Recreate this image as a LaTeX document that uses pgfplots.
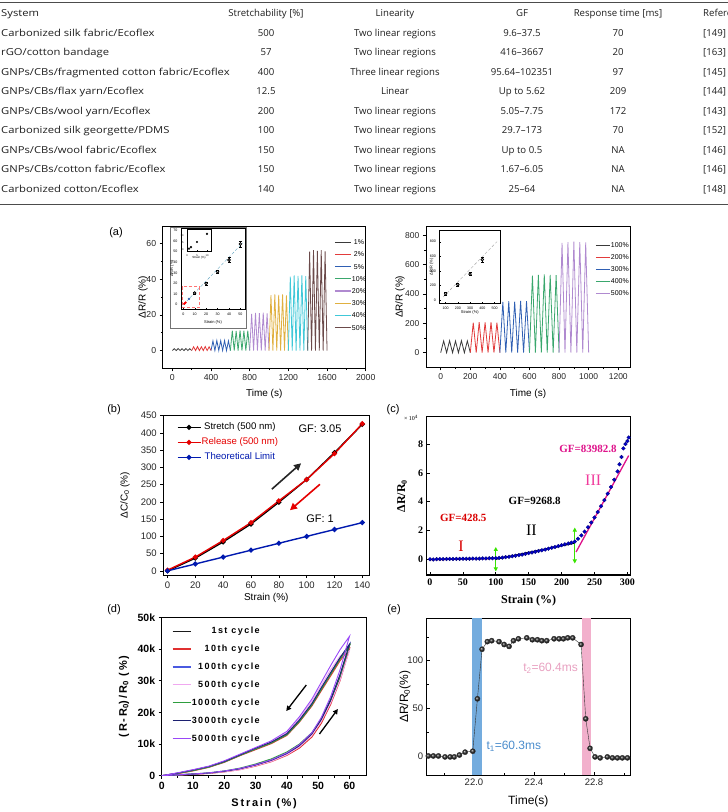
\documentclass[border=0pt]{standalone}
\usepackage{pgfplots}
\pgfplotsset{compat=1.18}
\usepackage{fontspec}
\setmainfont{Liberation Sans}
\newfontfamily\tabfont{Open Sans}
\newfontfamily\tabwide[FakeStretch=1.17]{Open Sans}
\newfontfamily\serifb{Liberation Serif}
\newfontfamily\spaced[LetterSpace=16]{Liberation Sans}
\usetikzlibrary{arrows.meta,plotmarks}

\definecolor{tabink}{HTML}{1E1E1E}
% strain-step colours, panel (a)
\definecolor{cA}{HTML}{3A3A3A}
\definecolor{cB}{HTML}{E23B3B}
\definecolor{cC}{HTML}{2F5FB3}
\definecolor{cD}{HTML}{3AA76D}
\definecolor{cE}{HTML}{B08AD0}
\definecolor{cF}{HTML}{E0B040}
\definecolor{cG}{HTML}{40C8D8}
\definecolor{cH}{HTML}{6B4A4A}
% cycling colours, panel (d)
\definecolor{d1}{HTML}{1A1A1A}
\definecolor{d10}{HTML}{E03030}
\definecolor{d100}{HTML}{4A5AE0}
\definecolor{d500}{HTML}{F0A8F0}
\definecolor{d1000}{HTML}{2E9E3E}
\definecolor{d3000}{HTML}{1C2070}
\definecolor{d5000}{HTML}{9A48F8}
% response-time bands, panel (e)
\definecolor{bandblue}{HTML}{74ACDE}
\definecolor{bandpink}{HTML}{F2B0CC}
\definecolor{tone}{HTML}{4A8CCC}
\definecolor{ttwo}{HTML}{E8A0C0}

\pgfplotsset{
  panelbase/.style={
    scale only axis, anchor=north west,
    /pgf/number format/assume math mode=true,
    /pgf/number format/1000 sep={},
    axis line style={line width=0.7pt},
    every tick/.style={black, line width=0.6pt},
    major tick length=3pt, minor tick length=1.8pt,
    tick pos=left,
    tick label style={text=black!85},
  },
  tinyinset/.style={
    scale only axis, anchor=north west,
    /pgf/number format/assume math mode=true,
    /pgf/number format/1000 sep={},
    axis line style={line width=0.4pt},
    every tick/.style={black, line width=0.3pt},
    major tick length=1.2pt, tick align=inside, tick pos=left,
    axis background/.style={fill=white},
  },
}

\begin{document}
\begin{tikzpicture}[font=\fontsize{10}{12}\selectfont]
\path[use as bounding box] (0pt,0pt) rectangle (728pt,-812pt);

% ---------------- comparison table ----------------
\draw[line width=1.1pt, black!70] (0pt,-2.5pt) -- (728pt,-2.5pt);
\draw[line width=1.1pt, black!70] (0pt,-204.5pt) -- (728pt,-204.5pt);
\begin{scope}[every node/.style={font=\tabfont\fontsize{9.6}{11}\selectfont, text=tabink, inner sep=0pt},
  sys/.style={anchor=base west, font=\tabwide\fontsize{9.6}{11}\selectfont}]
\node[sys] at (1pt,-16.4pt) {System};
\node[anchor=base] at (266pt,-16.4pt) {Stretchability [\%]};
\node[anchor=base] at (395pt,-16.4pt) {Linearity};
\node[anchor=base] at (522pt,-16.4pt) {GF};
\node[anchor=base] at (618pt,-16.4pt) {Response time [ms]};
\node[anchor=base west] at (703pt,-16.4pt) {Reference};
% row 1
\node[sys] at (1pt,-36.4pt) {Carbonized silk fabric/Ecoflex};
\node[anchor=base] at (266pt,-36.4pt) {500};
\node[anchor=base] at (395pt,-36.4pt) {Two linear regions};
\node[anchor=base] at (522pt,-36.4pt) {9.6–37.5};
\node[anchor=base] at (618pt,-36.4pt) {70};
\node[anchor=base west] at (703pt,-36.4pt) {[149]};
% row 2
\node[sys] at (1pt,-55.9pt) {rGO/cotton bandage};
\node[anchor=base] at (266pt,-55.9pt) {57};
\node[anchor=base] at (395pt,-55.9pt) {Two linear regions};
\node[anchor=base] at (522pt,-55.9pt) {416–3667};
\node[anchor=base] at (618pt,-55.9pt) {20};
\node[anchor=base west] at (703pt,-55.9pt) {[163]};
% row 3
\node[sys] at (1pt,-75.4pt) {GNPs/CBs/fragmented cotton fabric/Ecoflex};
\node[anchor=base] at (266pt,-75.4pt) {400};
\node[anchor=base] at (395pt,-75.4pt) {Three linear regions};
\node[anchor=base] at (522pt,-75.4pt) {95.64–102351};
\node[anchor=base] at (618pt,-75.4pt) {97};
\node[anchor=base west] at (703pt,-75.4pt) {[145]};
% row 4
\node[sys] at (1pt,-94.9pt) {GNPs/CBs/flax yarn/Ecoflex};
\node[anchor=base] at (266pt,-94.9pt) {12.5};
\node[anchor=base] at (395pt,-94.9pt) {Linear};
\node[anchor=base] at (522pt,-94.9pt) {Up to 5.62};
\node[anchor=base] at (618pt,-94.9pt) {209};
\node[anchor=base west] at (703pt,-94.9pt) {[144]};
% row 5
\node[sys] at (1pt,-114.4pt) {GNPs/CBs/wool yarn/Ecoflex};
\node[anchor=base] at (266pt,-114.4pt) {200};
\node[anchor=base] at (395pt,-114.4pt) {Two linear regions};
\node[anchor=base] at (522pt,-114.4pt) {5.05–7.75};
\node[anchor=base] at (618pt,-114.4pt) {172};
\node[anchor=base west] at (703pt,-114.4pt) {[143]};
% row 6
\node[sys] at (1pt,-133.9pt) {Carbonized silk georgette/PDMS};
\node[anchor=base] at (266pt,-133.9pt) {100};
\node[anchor=base] at (395pt,-133.9pt) {Two linear regions};
\node[anchor=base] at (522pt,-133.9pt) {29.7–173};
\node[anchor=base] at (618pt,-133.9pt) {70};
\node[anchor=base west] at (703pt,-133.9pt) {[152]};
% row 7
\node[sys] at (1pt,-153.4pt) {GNPs/CBs/wool fabric/Ecoflex};
\node[anchor=base] at (266pt,-153.4pt) {150};
\node[anchor=base] at (395pt,-153.4pt) {Two linear regions};
\node[anchor=base] at (522pt,-153.4pt) {Up to 0.5};
\node[anchor=base] at (618pt,-153.4pt) {NA};
\node[anchor=base west] at (703pt,-153.4pt) {[146]};
% row 8
\node[sys] at (1pt,-172.9pt) {GNPs/CBs/cotton fabric/Ecoflex};
\node[anchor=base] at (266pt,-172.9pt) {150};
\node[anchor=base] at (395pt,-172.9pt) {Two linear regions};
\node[anchor=base] at (522pt,-172.9pt) {1.67–6.05};
\node[anchor=base] at (618pt,-172.9pt) {NA};
\node[anchor=base west] at (703pt,-172.9pt) {[146]};
% row 9
\node[sys] at (1pt,-192.4pt) {Carbonized cotton/Ecoflex};
\node[anchor=base] at (266pt,-192.4pt) {140};
\node[anchor=base] at (395pt,-192.4pt) {Two linear regions};
\node[anchor=base] at (522pt,-192.4pt) {25–64};
\node[anchor=base] at (618pt,-192.4pt) {NA};
\node[anchor=base west] at (703pt,-192.4pt) {[148]};
\end{scope}

% ---------------- panel labels ----------------
\begin{scope}[every node/.style={font=\fontsize{11}{12}\selectfont}]
\node at (116pt,-233pt) {(a)};
\node at (114pt,-410pt) {(b)};
\node at (393pt,-410pt) {(c)};
\node at (114pt,-610pt) {(d)};
\node at (394pt,-610pt) {(e)};
\end{scope}

% ---------------- (a) left: small strains ----------------
\begin{axis}[panelbase,
  at={(162.7pt,-226pt)}, width=203pt, height=142.3pt,
  xmin=-100, xmax=2000, ymin=-10, ymax=70,
  xtick={0,400,...,2000}, ytick={0,20,40,60},
  minor x tick num=1, minor y tick num=1, tick align=outside,
  tick label style={font=\fontsize{8.7}{9}\selectfont},
  xlabel={Time (s)}, ylabel={ΔR/R (\%)},
  label style={font=\fontsize{10}{11}\selectfont},
  xlabel style={at={(axis description cs:0.5,-0.181)}, anchor=center},
  ylabel style={at={(axis description cs:-0.097,0.5)}, anchor=center},
  legend style={at={(axis description cs:0.829,0.923)}, anchor=north west, draw=none, fill=none,
    font=\fontsize{7}{8}\selectfont, row sep=6.2pt,
    nodes={inner sep=0.5pt, text height=5pt, text depth=0pt}},
  legend image code/.code={\draw[#1, line width=1.3pt] (0pt,0pt) -- (16pt,0pt);},
]
\addplot[cA, line width=0.8pt] coordinates {(0,0)(20,1.0)(40,0)(60,1.1)(80,0)(100,1.0)(120,0)(140,1.1)(160,0)(180,1.0)(200,0)};
\addlegendentry{1\%}
\addplot[cB, line width=0.8pt] coordinates {(200,0)(220,2.1)(240,0)(260,2.2)(280,0)(300,2.1)(320,0)(340,2.2)(360,0)(380,2.1)(400,0)};
\addlegendentry{2\%}
\addplot[cC, line width=0.8pt] coordinates {(400,0)(420,5.4)(440,0)(460,5.6)(480,0)(500,5.5)(520,0)(540,5.6)(560,0)(580,5.4)(600,0)};
\addlegendentry{5\%}
\addplot[cD, line width=0.8pt] coordinates {(600,0)(620,11.2)(640,0)(660,11.0)(680,0)(700,11.3)(720,0)(740,11.1)(760,0)(780,11.2)(800,0)};
\addlegendentry{10\%}
\addplot[cE, line width=0.8pt] coordinates {(800,0)(820,20.6)(840,0)(860,21.2)(880,0)(900,21.0)(920,0)(940,21.3)(960,0)(980,20.8)(1000,0)};
\addlegendentry{20\%}
\addplot[cF, line width=0.8pt] coordinates {(1000,0)(1020,31.2)(1040,0)(1060,31.5)(1080,0)(1100,31.3)(1120,0)(1140,31.6)(1160,0)(1180,31.0)(1200,0)};
\addlegendentry{30\%}
\addplot[cG, line width=0.8pt] coordinates {(1200,0)(1220,41.6)(1240,0)(1260,42.2)(1280,0)(1300,42.0)(1320,0)(1340,42.3)(1360,0)(1380,41.8)(1400,0)};
\addlegendentry{40\%}
\addplot[cH, line width=0.8pt] coordinates {(1400,0)(1420,55.6)(1440,0)(1460,56.4)(1480,0)(1500,56.0)(1520,0)(1540,56.5)(1560,0)(1580,55.8)(1600,0)};
\addlegendentry{50\%}
\end{axis}

% inset: peak response versus strain
\draw[black!55, line width=0.4pt, fill=white] (170pt,-227.5pt) rectangle (246pt,-328pt);
\begin{axis}[tinyinset,
  at={(181pt,-228pt)}, width=64pt, height=81pt,
  xmin=-2, xmax=54, ymin=-4, ymax=72,
  xtick={0,10,...,50}, ytick={0,10,...,70},
  tick label style={font=\fontsize{3.6}{4}\selectfont},
  xlabel={Strain (\%)}, ylabel={ΔR/R (\%)},
  label style={font=\fontsize{4}{4.5}\selectfont},
  xlabel style={at={(axis description cs:0.5,-0.16)}, anchor=center},
  ylabel style={at={(axis description cs:-0.14,0.5)}, anchor=center},
]
\addplot[densely dashed, cyan!50!gray, line width=0.4pt] coordinates {(0,0)(52,58)};
\addplot[densely dashed, red!55, line width=0.3pt] coordinates {(-1,-2.5)(14,-2.5)(14,17)(-1,17)(-1,-2.5)};
\addplot[only marks, mark=ball, mark size=1.5pt, mark options={ball color=black},
  error bars/.cd, y dir=both, y explicit, error bar style={line width=0.3pt}]
  coordinates {(10,11) +- (0,1) (20,20) +- (0,1.5) (30,31) +- (0,1.5) (40,42) +- (0,2.5) (50,57) +- (0,3)};
\addplot[only marks, mark=*, mark size=1pt, red] coordinates {(1,1)(2,2)};
\addplot[only marks, mark=*, mark size=1pt, cC] coordinates {(5,5.5)};
\end{axis}
% inset of the inset: lowest strains
\begin{axis}[tinyinset,
  at={(187pt,-229.5pt)}, width=24pt, height=22pt,
  xmin=0, xmax=12, ymin=-1, ymax=14,
  xtick={0,5,10}, ytick={0,5,10},
  tick label style={font=\fontsize{2.6}{3}\selectfont},
  xlabel={Strain (\%)},
  label style={font=\fontsize{3}{3.5}\selectfont},
  xlabel style={at={(axis description cs:0.5,-0.3)}, anchor=center},
]
\addplot[only marks, mark=ball, mark size=0.9pt, mark options={ball color=black}] coordinates {(1,1)(2,2)(5,5.5)(10,11)};
\end{axis}

% ---------------- (a) right: large strains ----------------
\begin{axis}[panelbase,
  at={(425.9pt,-226.3pt)}, width=204.2pt, height=141.1pt,
  xmin=-100, xmax=1280, ymin=-100, ymax=860,
  xtick={0,200,...,1200}, ytick={0,200,...,800},
  minor x tick num=1, minor y tick num=1, tick align=outside,
  tick label style={font=\fontsize{8.5}{9}\selectfont},
  xlabel={Time (s)}, ylabel={ΔR/R (\%)},
  label style={font=\fontsize{10}{11}\selectfont},
  xlabel style={at={(axis description cs:0.5,-0.19)}, anchor=center},
  ylabel style={at={(axis description cs:-0.127,0.5)}, anchor=center},
  legend style={at={(axis description cs:0.813,0.903)}, anchor=north west, draw=none, fill=none,
    font=\fontsize{7}{8}\selectfont, row sep=6pt,
    nodes={inner sep=0.5pt, text height=5pt, text depth=0pt}},
  legend image code/.code={\draw[#1, line width=1.3pt] (0pt,0pt) -- (14pt,0pt);},
]
\addplot[cA, line width=0.8pt] coordinates {(0,0)(20,80)(40,0)(60,82)(80,0)(100,80)(120,0)(140,82)(160,0)(180,80)(200,0)};
\addlegendentry{100\%}
\addplot[cB, line width=0.8pt] coordinates {(200,0)(220,205)(240,0)(260,208)(280,0)(300,206)(320,0)(340,208)(360,0)(380,205)(400,0)};
\addlegendentry{200\%}
\addplot[cC, line width=0.8pt] coordinates {(400,0)(420,345)(440,0)(460,350)(480,0)(500,348)(520,0)(540,352)(560,0)(580,350)(600,0)};
\addlegendentry{300\%}
\addplot[cD, line width=0.8pt] coordinates {(600,0)(620,525)(640,0)(660,530)(680,0)(700,532)(720,0)(740,530)(760,0)(780,528)(800,0)};
\addlegendentry{400\%}
\addplot[cE, line width=0.8pt] coordinates {(800,0)(820,748)(840,0)(860,752)(880,0)(900,755)(920,0)(940,752)(960,0)(980,750)(1000,0)};
\addlegendentry{500\%}
\end{axis}
\begin{axis}[tinyinset,
  at={(439.5pt,-230pt)}, width=60.5pt, height=73.6pt,
  xmin=50, xmax=545, ymin=-50, ymax=960,
  xtick={100,200,...,500}, ytick={0,200,...,800},
  tick label style={font=\fontsize{3.6}{4}\selectfont},
  xlabel={Strain (\%)}, ylabel={ΔR/R (\%)},
  label style={font=\fontsize{4}{4.5}\selectfont},
  xlabel style={at={(axis description cs:0.5,-0.115)}, anchor=center},
  ylabel style={at={(axis description cs:-0.13,0.5)}, anchor=center},
]
\addplot[densely dashed, gray!70, line width=0.4pt] coordinates {(80,40)(520,800)};
\addplot[only marks, mark=ball, mark size=1.5pt, mark options={ball color=black},
  error bars/.cd, y dir=both, y explicit, error bar style={line width=0.3pt}]
  coordinates {(100,85) +- (0,15) (200,210) +- (0,20) (300,355) +- (0,20) (400,555) +- (0,30)};
\end{axis}

% ---------------- (b) capacitance change ----------------
\begin{axis}[panelbase,
  at={(163.3pt,-415.7pt)}, width=206pt, height=159.3pt,
  xmin=-3, xmax=145, ymin=-12, ymax=450,
  xtick={0,20,...,140}, ytick={0,50,...,450}, tick align=outside,
  tick label style={font=\fontsize{9.5}{10}\selectfont},
  xlabel={Strain (\%)}, ylabel={ΔC/C\textsubscript{0} (\%)},
  label style={font=\fontsize{10}{11}\selectfont},
  xlabel style={at={(axis description cs:0.5,-0.146)}, anchor=center},
  ylabel style={at={(axis description cs:-0.186,0.5)}, anchor=center},
  legend style={at={(axis description cs:0.05,0.972)}, anchor=north west, draw=none, fill=none,
    font=\fontsize{9.6}{10}\selectfont, row sep=5pt,
    nodes={inner sep=0.5pt, text height=7pt, text depth=2pt}},
  legend image code/.code={\draw[mark repeat=2, mark phase=2, #1] plot coordinates {(0pt,0pt)(11.5pt,0pt)(23pt,0pt)};},
]
\addplot[black, line width=1.4pt, mark=*, mark size=1.8pt] coordinates {(0,0)(20,37)(40,84)(60,136)(80,199)(100,265)(120,343)(140,425)};
\addlegendentry{Stretch (500 nm)}
\addplot[red!90!black, line width=1.4pt, mark=*, mark size=1.8pt] coordinates {(0,2)(20,40)(40,88)(60,140)(80,203)(100,265)(120,340)(140,427)};
\addlegendentry{\textcolor{red!90!black}{Release (500 nm)}}
\addplot[blue!65!black!90!cyan, line width=1.4pt, mark=*, mark size=1.8pt] coordinates {(0,0)(20,20)(40,40)(60,60)(80,80)(100,100)(120,120)(140,140)};
\addlegendentry{\textcolor{blue!65!black!90!cyan}{Theoretical Limit}}
\draw[-{Triangle[length=7pt,width=7pt]}, line width=1.6pt, black!85] (axis cs:75,237) -- (axis cs:96,312);
\draw[-{Triangle[length=7pt,width=7pt]}, line width=1.6pt, red!90!black] (axis cs:109.5,251) -- (axis cs:88,176);
\node[font=\fontsize{11}{12}\selectfont] at (axis cs:109.6,411.4) {GF: 3.05};
\node[font=\fontsize{11}{12}\selectfont] at (axis cs:109.6,150) {GF: 1};
\end{axis}

% ---------------- (c) three-region response ----------------
\begin{axis}[panelbase,
  at={(426.7pt,-416.7pt)}, width=204pt, height=158.3pt,
  xmin=-5, xmax=305, ymin=-1.1, ymax=9.9,
  xtick={0,50,...,300}, ytick={0,2,...,8}, tick align=inside,
  axis line style={line width=1.5pt},
  tick label style={font=\serifb\bfseries\fontsize{10}{11}\selectfont, text=black},
  xlabel={Strain (\%)}, ylabel={ΔR/R\textsubscript{0}},
  label style={font=\serifb\bfseries\fontsize{12}{13}\selectfont},
  xlabel style={at={(axis description cs:0.5,-0.162)}, anchor=center},
  ylabel style={at={(axis description cs:-0.121,0.5)}, anchor=center},
]
\addplot[only marks, mark=*, mark size=1.9pt, mark options={fill=blue!80!black, draw=blue!45!black, line width=0.3pt}] coordinates {
(0,0.00)(5,-0.02)(10,0.00)(15,0.01)(20,0.00)(25,0.01)(30,0.02)(35,0.01)(40,0.02)(45,0.02)
(50,0.03)(55,0.03)(60,0.03)(65,0.04)(70,0.04)(75,0.04)(80,0.05)(85,0.05)(90,0.06)(95,0.06)
(100,0.07)(105,0.09)(110,0.11)(115,0.14)(120,0.17)(125,0.20)(130,0.24)(135,0.28)(140,0.32)(145,0.37)
(150,0.42)(155,0.47)(160,0.52)(165,0.57)(170,0.62)(175,0.67)(180,0.73)(185,0.79)(190,0.85)(195,0.91)
(200,0.97)(205,1.03)(210,1.09)(215,1.15)(220,1.22)(225,1.42)(230,1.65)(235,1.92)(240,2.22)(245,2.55)
(250,2.90)(255,3.28)(260,3.68)(265,4.10)(270,4.55)(275,5.02)(280,5.52)(285,6.10)(288,6.60)(291,7.10)
(294,7.70)(297,8.00)(300,8.20)(302,8.45)};
\addplot[red!85!black, line width=1.3pt] coordinates {(0,-0.03)(102,0.05)};
\addplot[black, line width=1.3pt] coordinates {(100,0.0)(220,1.12)};
\addplot[magenta!85!violet, line width=1.3pt] coordinates {(222,0.5)(302,7.2)};
\draw[{Triangle[length=4pt,width=4pt]}-{Triangle[length=4pt,width=4pt]}, green!85!black!70!lime, line width=1pt] (axis cs:100,-0.85) -- (axis cs:100,0.85);
\draw[{Triangle[length=4pt,width=4pt]}-{Triangle[length=4pt,width=4pt]}, green!85!black!70!lime, line width=1pt] (axis cs:220,-0.3) -- (axis cs:220,2.2);
\node[font=\serifb\bfseries\fontsize{11}{12}\selectfont, text=red!85!black] at (axis cs:50.5,2.88) {GF=428.5};
\node[font=\serifb\fontsize{16}{17}\selectfont, text=red!85!black] at (axis cs:47,0.92) {I};
\node[font=\serifb\bfseries\fontsize{11}{12}\selectfont] at (axis cs:159,4.04) {GF=9268.8};
\node[font=\serifb\fontsize{16}{17}\selectfont] at (axis cs:154,2.03) {II};
\node[font=\serifb\bfseries\fontsize{11}{12}\selectfont, text=magenta!85!violet] at (axis cs:240,7.63) {GF=83982.8};
\node[font=\serifb\fontsize{16}{17}\selectfont, text=magenta!70!pink] at (axis cs:248,5.5) {III};
\end{axis}
\node[font=\serifb\fontsize{6}{7}\selectfont] at (411pt,-418pt) {× 10\textsuperscript{4}};

% ---------------- (d) cycling stability ----------------
\begin{axis}[panelbase,
  at={(161.7pt,-617.3pt)}, width=205pt, height=158.4pt,
  xmin=0, xmax=65.5, ymin=0, ymax=50000,
  xtick={0,10,...,60}, ytick={0,10000,...,50000},
  yticklabels={0,10k,20k,30k,40k,50k}, scaled y ticks=false,
  minor x tick num=1, tick align=outside,
  tick label style={font=\bfseries\fontsize{10.5}{11}\selectfont, text=black},
  xlabel={Strain (\%)}, ylabel={(R-R\textsubscript{0})/R\textsubscript{0} (\%)},
  label style={font=\spaced\bfseries\fontsize{11}{12}\selectfont},
  xlabel style={at={(axis description cs:0.5,-0.174)}, anchor=center},
  ylabel style={at={(axis description cs:-0.184,0.5)}, anchor=center},
  legend cell align=right,
  legend style={at={(axis description cs:0.035,0.958)}, anchor=north west, draw=none, fill=none,
    font=\spaced\bfseries\fontsize{9}{10}\selectfont, row sep=7.9pt,
    nodes={inner sep=0.5pt, text height=7pt, text depth=2pt}},
  legend image code/.code={\draw[#1, line width=1.2pt] (0pt,0pt) -- (18pt,0pt);},
]
\addplot[d1, line width=0.9pt] coordinates {(0,0)(5,300)(10,500)(15,750)(20,1300)(25,2100)(30,3300)(35,4800)(40,6900)(44,9300)(48,13000)(51,17400)(54,23600)(57,31200)(60,41000)
(57,37000)(54,32200)(51,27400)(48,22400)(44,17300)(40,13000)(35,10400)(30,8500)(25,6500)(20,4400)(15,2800)(10,1700)(5,800)(0,0)};
\addlegendentry{1st cycle}
\addplot[d10, line width=0.9pt] coordinates {(0,0)(5,200)(10,400)(15,700)(20,1200)(25,1900)(30,3000)(35,4400)(40,6400)(44,8700)(48,12200)(51,16500)(54,22500)(57,30000)(60,40000)
(57,36300)(54,31500)(51,26800)(48,22000)(44,16900)(40,12700)(35,10100)(30,8200)(25,6300)(20,4200)(15,2600)(10,1500)(5,600)(0,0)};
\addlegendentry{10th cycle}
\addplot[d100, line width=0.9pt] coordinates {(0,0)(5,250)(10,500)(15,800)(20,1400)(25,2200)(30,3400)(35,4900)(40,7000)(44,9600)(48,13400)(51,18000)(54,24200)(57,31800)(60,41500)
(57,37200)(54,32400)(51,27500)(48,22600)(44,17400)(40,13200)(35,10500)(30,8500)(25,6500)(20,4400)(15,2800)(10,1700)(5,800)(0,0)};
\addlegendentry{100th cycle}
\addplot[d500, line width=0.9pt] coordinates {(0,0)(5,200)(10,450)(15,750)(20,1200)(25,1900)(30,3100)(35,4500)(40,6600)(44,9100)(48,12800)(51,17200)(54,23000)(57,30200)(60,39500)
(57,37800)(54,33500)(51,28500)(48,23500)(44,18000)(40,13600)(35,10600)(30,8600)(25,6600)(20,4500)(15,2900)(10,1800)(5,800)(0,0)};
\addlegendentry{500th cycle}
\addplot[d1000, line width=0.9pt] coordinates {(0,0)(5,300)(10,550)(15,900)(20,1500)(25,2400)(30,3700)(35,5300)(40,7500)(44,10000)(48,13600)(51,18000)(54,24000)(57,31500)(60,41000)
(57,36800)(54,32000)(51,27200)(48,22300)(44,17100)(40,12900)(35,10300)(30,8400)(25,6400)(20,4300)(15,2700)(10,1600)(5,700)(0,0)};
\addlegendentry{1000th cycle}
\addplot[d3000, line width=0.9pt] coordinates {(0,0)(5,250)(10,500)(15,850)(20,1400)(25,2200)(30,3400)(35,4900)(40,7100)(44,9500)(48,13300)(51,17800)(54,24000)(57,32000)(60,41500)
(57,37300)(54,32600)(51,27800)(48,22800)(44,17600)(40,13300)(35,10600)(30,8700)(25,6600)(20,4500)(15,2900)(10,1800)(5,800)(0,0)};
\addlegendentry{3000th cycle}
\addplot[d5000, line width=0.9pt] coordinates {(0,0)(5,300)(10,550)(15,900)(20,1500)(25,2300)(30,3500)(35,5000)(40,7200)(44,9800)(48,13600)(51,18400)(54,25000)(57,33500)(60,44000)
(57,39800)(54,34800)(51,29500)(48,24200)(44,18600)(40,14000)(35,11000)(30,8900)(25,6800)(20,4700)(15,3000)(10,1900)(5,900)(0,0)};
\addlegendentry{5000th cycle}
\draw[-{Triangle[length=5pt,width=5pt]}, line width=1.3pt, black] (axis cs:46.2,28630) -- (axis cs:39.8,20420);
\draw[-{Triangle[length=5pt,width=5pt]}, line width=1.3pt, black] (axis cs:50.4,13160) -- (axis cs:56.3,21050);
\end{axis}

% ---------------- (e) response time ----------------
\begin{axis}[panelbase,
  at={(426.7pt,-618.3pt)}, width=203.3pt, height=156.7pt,
  xmin=21.685, xmax=23.04, ymin=-20, ymax=144.5,
  xtick={22.0,22.4,22.8}, minor xtick={21.8,22.2,22.6,23.0},
  ytick={0,50,100}, minor ytick={25,75,125}, tick align=inside,
  xticklabel style={/pgf/number format/.cd, fixed, fixed zerofill, precision=1},
  tick label style={font=\fontsize{9.5}{10}\selectfont},
  xlabel={Time(s)}, ylabel={ΔR/R\textsubscript{0}(\%)},
  label style={font=\fontsize{12}{13}\selectfont},
  xlabel style={at={(axis description cs:0.5,-0.166)}, anchor=center},
  ylabel style={at={(axis description cs:-0.107,0.5)}, anchor=center},
]
\addplot[fill=bandblue, draw=none] coordinates {(21.99,-20)(22.055,-20)(22.055,144.5)(21.99,144.5)} -- cycle;
\addplot[fill=bandpink, draw=none] coordinates {(22.717,-20)(22.783,-20)(22.783,144.5)(22.717,144.5)} -- cycle;
\addplot[black!80, line width=0.4pt, mark=ball, mark size=2.6pt, mark options={ball color=black!85}] coordinates {
(21.696,0)(21.729,0)(21.763,0)(21.807,-1)(21.841,-1)(21.869,-1)(21.903,1)(21.941,4)(21.992,5)(22.023,60)
(22.054,112)(22.089,120)(22.118,121)(22.167,120)(22.201,117)(22.234,115)(22.263,121)(22.296,123)(22.352,124)(22.389,122)
(22.423,122)(22.452,121)(22.485,121)(22.534,123)(22.567,123)(22.596,123)(22.625,124)(22.658,124)(22.714,117)(22.745,39)
(22.774,8)(22.807,-1)(22.841,-2)(22.889,-1)(22.923,-2)(22.956,-2)(22.989,-2)(23.023,-2)};
\node[anchor=west, font=\fontsize{12}{13}\selectfont, text=tone] at (axis cs:22.06,10) {t\textsubscript{1}=60.3ms};
\node[anchor=west, font=\fontsize{12}{13}\selectfont, text=ttwo] at (axis cs:22.305,92) {t\textsubscript{2}=60.4ms};
\end{axis}
\end{tikzpicture}
\end{document}
